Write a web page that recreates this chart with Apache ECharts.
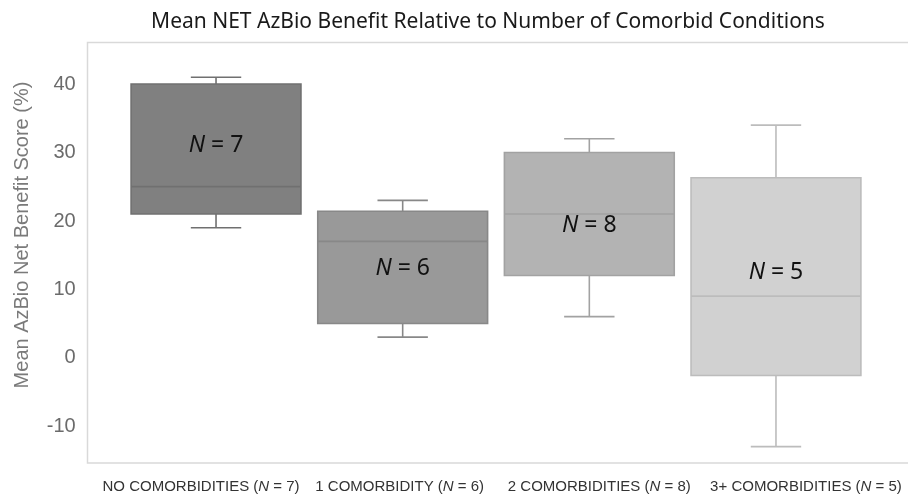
<!DOCTYPE html>
<html>
<head>
<meta charset="utf-8">
<script src="https://cdn.jsdelivr.net/npm/echarts@6/dist/echarts.min.js"></script>
<style>html,body{margin:0;padding:0;background:#fff}#c{width:908px;height:496px}</style>
</head>
<body>
<div id="c"></div>
<script>
const categories = ['NO COMORBIDITIES', '1 COMORBIDITY', '2 COMORBIDITIES', '3+ COMORBIDITIES'];
const groupN = [7, 6, 8, 5];
const whiskerMin = [18, 2, 5, -14];
const q1 = [20, 4, 11, -3.6];
const median = [24, 16, 20, 8];
const q3 = [39, 20.4, 29, 25.3];
const whiskerMax = [40, 22, 31, 33];
const nLabelY = [30, 12, 18.4, 11.4];
const yTicks = [-10, 0, 10, 20, 30, 40];

const fills = ['#808080', '#999999', '#b3b3b3', '#d1d1d1'];
const strokes = ['#707070', '#888888', '#a2a2a2', '#bcbcbc'];
const labelShift = [[0, 30, 0, 0], [0, 6, 0, 0], [0, 0, 0, 20], [0, 0, 0, 60]];

const chart = echarts.init(document.getElementById('c'), null, {renderer: 'canvas'});
const data = categories.map((c, i) => [i, whiskerMin[i], q1[i], median[i], q3[i], whiskerMax[i], nLabelY[i], groupN[i]]);

chart.setOption({
  animation: false,
  backgroundColor: '#ffffff',
  graphic: [
    {type: 'rect', z: -1, shape: {x: 87.5, y: 42.5, width: 840, height: 420.5}, style: {fill: 'none', stroke: '#d9d9d9', lineWidth: 1.5}},
    {type: 'text', x: 488, y: 22, style: {text: 'Mean NET AzBio Benefit Relative to Number of Comorbid Conditions', font: '21px "Noto Sans"', fill: '#1a1a1a', align: 'center', verticalAlign: 'middle'}},
    {type: 'text', x: 22, y: 235, rotation: Math.PI / 2, style: {text: 'Mean AzBio Net Benefit Score (%)', font: '20px "Liberation Sans"', fill: '#7a7a7a', align: 'center', verticalAlign: 'middle'}}
  ],
  grid: {left: 122.7, right: 38.7, top: 43, bottom: 33, containLabel: false, outerBoundsMode: 'none'},
  xAxis: {
    type: 'category',
    data: categories.map((c, i) => ({value: c, textStyle: {padding: labelShift[i]}})),
    axisLine: {show: false},
    axisTick: {show: false},
    axisLabel: {
      interval: 0,
      margin: 16,
      fontFamily: '"Liberation Sans"',
      fontSize: 15,
      color: '#333333',
      formatter: (v, idx) => v + ' ({i|N} = ' + groupN[idx] + ')',
      rich: {i: {fontStyle: 'italic', fontFamily: '"Liberation Sans"', fontSize: 15, color: '#333333'}}
    }
  },
  yAxis: {
    type: 'value',
    min: -16.4,
    max: 45,
    splitLine: {show: false},
    axisLine: {show: false},
    axisTick: {show: false},
    axisLabel: {
      customValues: yTicks,
      margin: 47,
      fontFamily: '"Liberation Sans"',
      fontSize: 20,
      color: '#6b6b6b',
      verticalAlign: 'top',
      lineHeight: 14
    }
  },
  series: [{
    type: 'custom',
    data: data,
    encode: {x: 0, y: [1, 5]},
    renderItem: function (params, api) {
      const i = params.dataIndex;
      const xi = api.value(0);
      const band = api.size([1, 0])[0];
      const boxW = band * 0.91, capW = band * 0.27;
      const pMin = api.coord([xi, api.value(1)]);
      const pQ1 = api.coord([xi, api.value(2)]);
      const pMed = api.coord([xi, api.value(3)]);
      const pQ3 = api.coord([xi, api.value(4)]);
      const pMax = api.coord([xi, api.value(5)]);
      const pLab = api.coord([xi, api.value(6)]);
      const cx = pMed[0];
      const lineStyle = {stroke: strokes[i], lineWidth: 1.6};
      return {
        type: 'group',
        children: [
          {type: 'line', shape: {x1: cx, y1: pMax[1], x2: cx, y2: pQ3[1]}, style: lineStyle},
          {type: 'line', shape: {x1: cx, y1: pQ1[1], x2: cx, y2: pMin[1]}, style: lineStyle},
          {type: 'line', shape: {x1: cx - capW / 2, y1: pMax[1], x2: cx + capW / 2, y2: pMax[1]}, style: lineStyle},
          {type: 'line', shape: {x1: cx - capW / 2, y1: pMin[1], x2: cx + capW / 2, y2: pMin[1]}, style: lineStyle},
          {type: 'rect', shape: {x: cx - boxW / 2, y: pQ3[1], width: boxW, height: pQ1[1] - pQ3[1]}, style: {fill: fills[i], stroke: strokes[i], lineWidth: 1.6}},
          {type: 'line', shape: {x1: cx - boxW / 2, y1: pMed[1], x2: cx + boxW / 2, y2: pMed[1]}, style: lineStyle},
          {type: 'text', x: pLab[0], y: pLab[1], style: {
            text: '{i|N} = ' + api.value(7),
            font: '23px "Noto Sans"',
            fill: '#111111',
            align: 'center', verticalAlign: 'middle',
            rich: {i: {fontStyle: 'italic', fontFamily: '"Noto Sans"', fontSize: 23, color: '#111111'}}
          }}
        ]
      };
    }
  }]
});
</script>
</body>
</html>
